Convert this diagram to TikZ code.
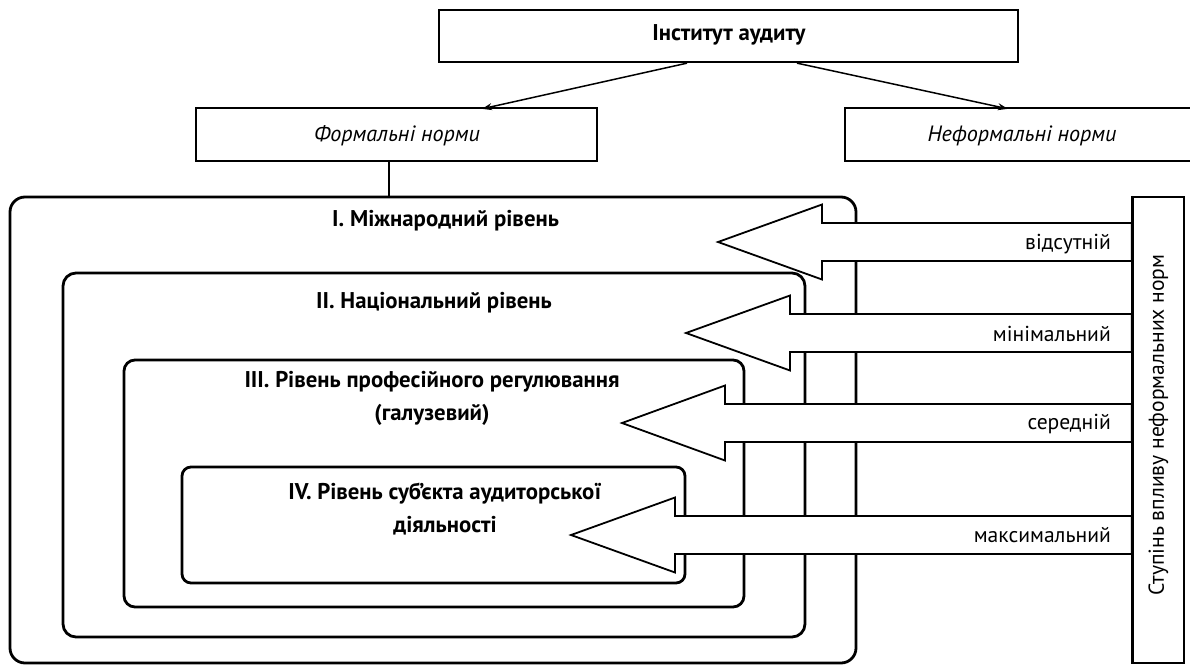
\documentclass[tikz,border=0pt]{standalone}
\usepackage{fontspec}
\setmainfont{PT Sans}
\usetikzlibrary{arrows.meta,calc}
\newlength\calw
\settowidth\calw{\fontsize{10}{12}\selectfont\bfseries III. Рівень професійного регулювання}
\pgfmathsetmacro\bsize{10*375/\calw}
\pgfmathsetmacro\bskip{1.45*\bsize}
\settowidth\calw{\fontsize{10}{12}\selectfont максимальний}
\pgfmathsetmacro\rsize{10*137/\calw}
\pgfmathsetmacro\rskip{1.2*\rsize}
\settowidth\calw{\fontsize{10}{12}\selectfont\itshape Неформальні норми}
\pgfmathsetmacro\isize{10*189/\calw}
\pgfmathsetmacro\iskip{1.2*\isize}
\begin{document}
\begin{tikzpicture}[x=1pt,y=-1pt,
  topbox/.style={draw,line width=2.3pt,inner sep=0pt},
  levelbox/.style={draw,line width=2.8pt,inner sep=0pt},
  blockarrow/.style={draw,line width=1.8pt,fill=white,line join=miter},
  ttl/.style={font=\fontsize{\bsize}{\bskip}\selectfont\bfseries,align=center,inner sep=0pt},
  lbl/.style={font=\fontsize{\rsize}{\rskip}\selectfont,anchor=east,inner sep=0pt},
  ital/.style={font=\fontsize{\isize}{\iskip}\selectfont\itshape,inner sep=0pt},
  conn/.style={line width=1.5pt,-{Stealth[length=10pt,width=7pt]}}]
\useasboundingbox (0,0) rectangle (1190,666);
% top boxes
\node[topbox,minimum width=579pt,minimum height=52pt] (inst) at (728.5,36) {};
\node[ttl] (insttxt) at (729,35) {Інститут аудиту};
\node[topbox,minimum width=401pt,minimum height=53pt] (formal) at (396.5,134.5) {};
\node[ital] (formaltxt) at (397,136) {Формальні норми};
\node[topbox,minimum width=354pt,minimum height=53pt] (informal) at (1022,134.5) {};
\node[ital] (informaltxt) at (1022,136) {Неформальні норми};
\draw[conn] ([xshift=-41.5pt]inst.south) -- ([xshift=85.5pt,yshift=-2pt]formal.north);
\draw[conn] ([xshift=68.5pt]inst.south) -- ([xshift=164pt,yshift=-2pt]informal.north west);
% level boxes
\node[levelbox,rounded corners=15pt,minimum width=846pt,minimum height=466pt] (l1) at (433,430) {};
\node[levelbox,rounded corners=13pt,minimum width=742pt,minimum height=364pt] (l2) at (434,455) {};
\node[levelbox,rounded corners=11pt,minimum width=620pt,minimum height=247pt] (l3) at (434,483.5) {};
\node[levelbox,rounded corners=9pt,minimum width=503pt,minimum height=116pt] (l4) at (433.5,525) {};
\draw[line width=1.5pt] ([xshift=-7.5pt]formal.south) -- ([xshift=-7.5pt]formal.south |- l1.north);
\node[ttl,anchor=west] (t1) at (332,221) {I. Міжнародний рівень};
\node[ttl] (t2) at (434,303) {II. Національний рівень};
\node[ttl] (t3) at (432,398) {III. Рівень професійного регулювання\\(галузевий)};
\node[ttl] (t4) at (445,509) {IV. Рівень суб’єкта аудиторської\\діяльності};
% side box
\node[topbox,minimum width=51pt,minimum height=466pt] (side) at (1158.5,430) {};
% block arrows
\foreach \c/\t/\b in {242/718/822, 333/686/790, 423/622/725, 535/571/675}{
  \draw[blockarrow] (\t,\c) -- (\b,\c-37.5) -- (\b,\c-19) -- (side.west |- 0,\c-19)
     -- (side.west |- 0,\c+19) -- (\b,\c+19) -- (\b,\c+37.5) -- cycle;
}
\draw[line width=2.3pt] (side.north west) -- (side.south west);
\node[lbl] (a1) at (1111,244) {відсутній};
\node[lbl] (a2) at (1111,334) {мінімальний};
\node[lbl] (a3) at (1111,424) {середній};
\node[lbl] (a4) at (1111,535) {максимальний};
\node[rotate=90,inner sep=0pt,font=\fontsize{\rsize}{\rskip}\selectfont] (sidetxt) at ([yshift=5pt]side.center) {Ступінь впливу неформальних норм};
\end{tikzpicture}
\end{document}
